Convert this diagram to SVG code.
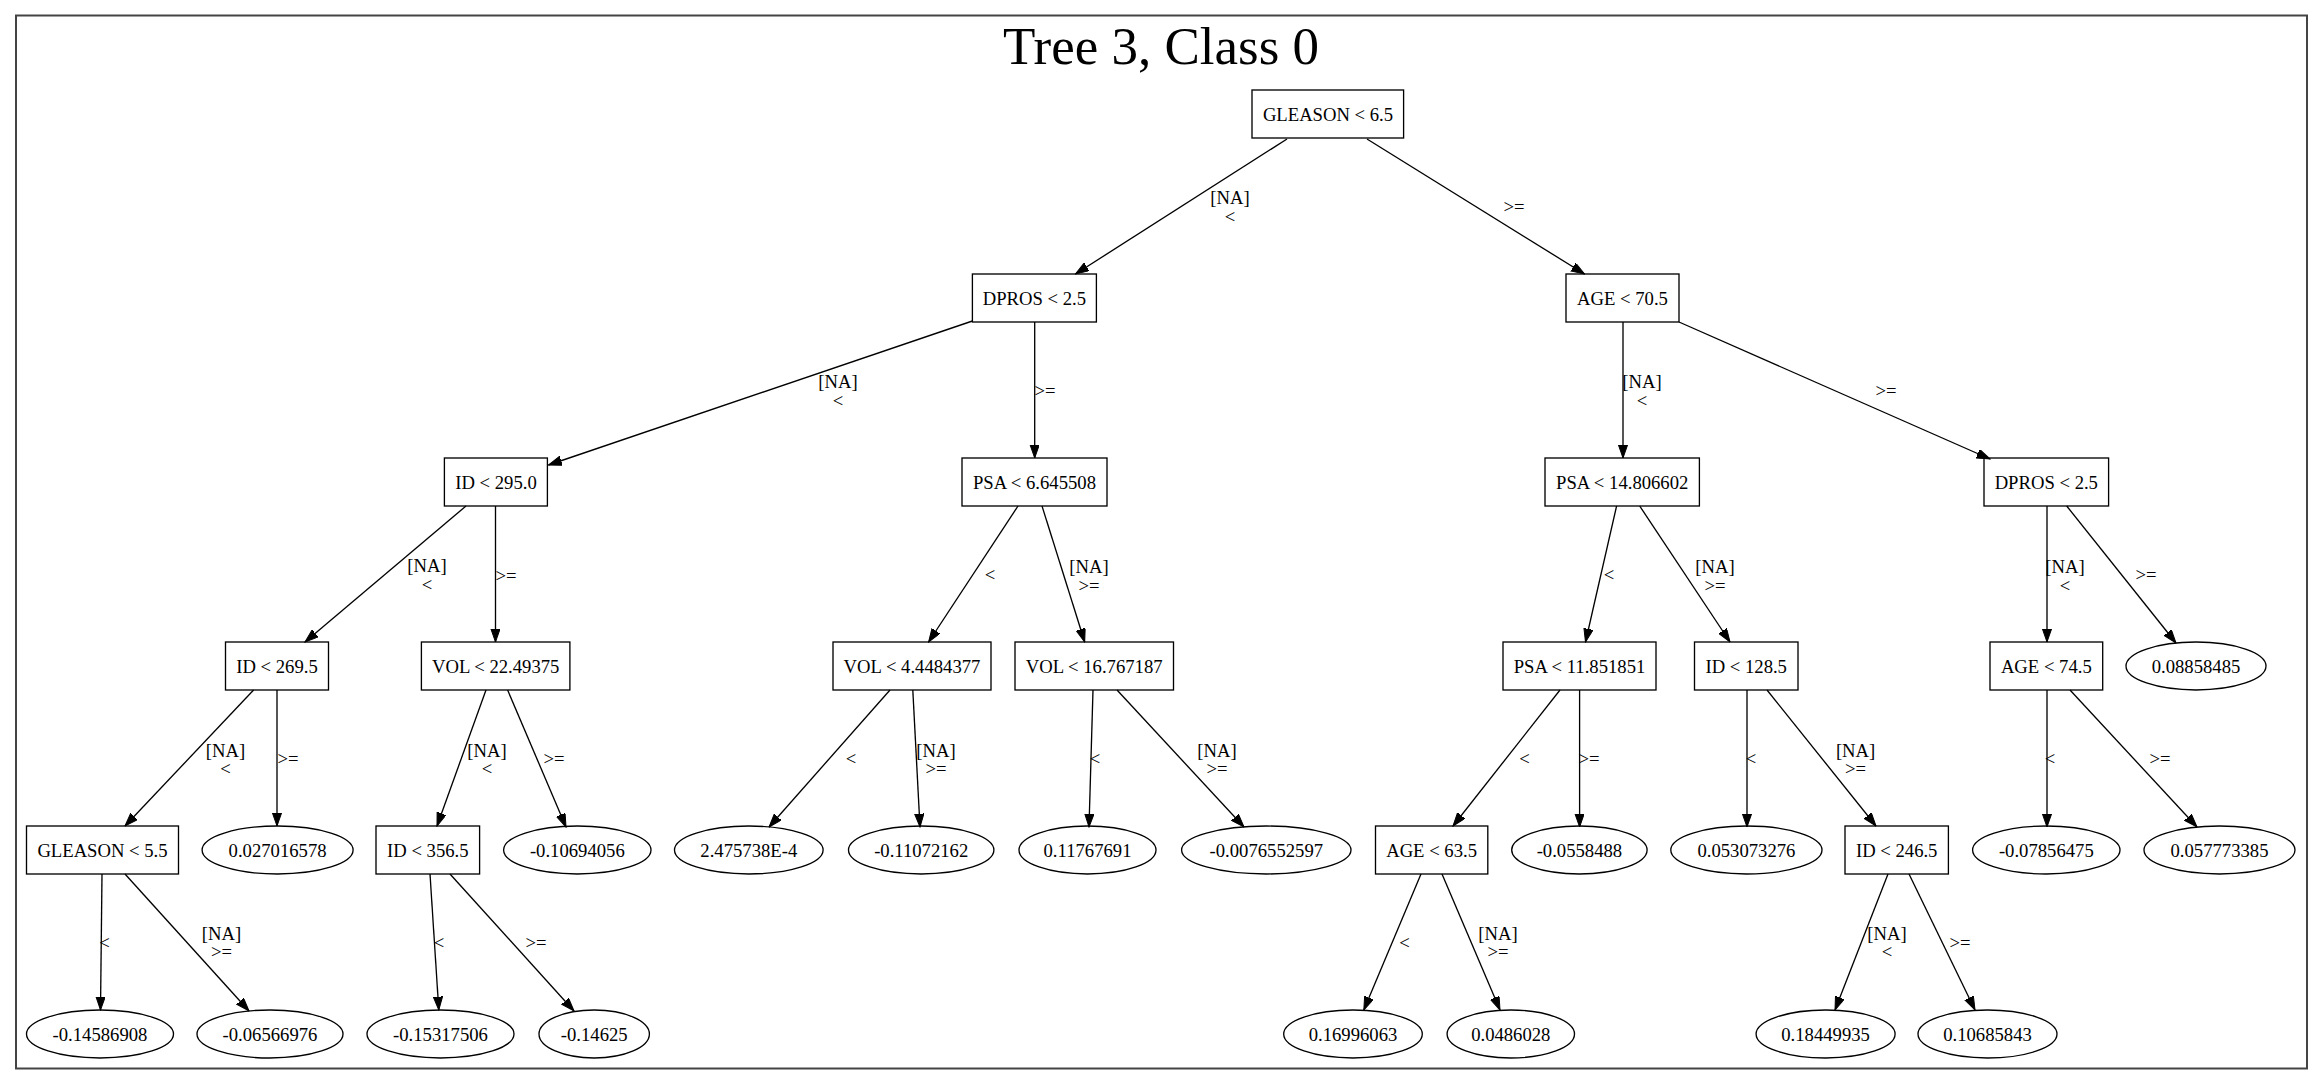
<svg xmlns="http://www.w3.org/2000/svg" width="2323" height="1085" viewBox="0 0 2323 1085">
<style>
.n{fill:none;stroke:#000;stroke-width:1.33}
.t{font-family:"Liberation Serif","Times New Roman",serif;font-size:18.67px;text-anchor:middle;fill:#000}
.e{fill:none;stroke:#000;stroke-width:1.33;marker-end:url(#ah)}
.ttl{font-family:"Liberation Serif","Times New Roman",serif;font-size:53px;text-anchor:middle;fill:#000}
</style>
<defs>
<marker id="ah" markerUnits="userSpaceOnUse" markerWidth="14" markerHeight="10" refX="13.3" refY="4.67" orient="auto">
<path d="M0,0 L13.3,4.67 L0,9.33 Z" fill="#000" stroke="#000" stroke-width="1"/>
</marker>
</defs>
<rect x="0" y="0" width="2323" height="1085" fill="#fff"/>
<rect x="16" y="15.5" width="2291" height="1053" fill="none" stroke="#444" stroke-width="2"/>
<text class="ttl" x="1161" y="64">Tree 3, Class 0</text>

<g id="edges">
<line class="e" x1="1287" y1="139" x2="1075.5" y2="274"/>
<line class="e" x1="1367" y1="139" x2="1584.5" y2="274"/>
<line class="e" x1="972.4" y1="321" x2="548.5" y2="465"/>
<line class="e" x1="1034.7" y1="322" x2="1034.7" y2="458"/>
<line class="e" x1="1623" y1="322" x2="1623" y2="458"/>
<line class="e" x1="1679" y1="322" x2="1990" y2="459"/>
<line class="e" x1="466" y1="506" x2="305" y2="642"/>
<line class="e" x1="495.5" y1="506" x2="495.5" y2="642"/>
<line class="e" x1="1018" y1="506" x2="928.6" y2="642"/>
<line class="e" x1="1042" y1="506" x2="1084.7" y2="642"/>
<line class="e" x1="1616.6" y1="506" x2="1585.5" y2="642"/>
<line class="e" x1="1639.7" y1="506" x2="1730" y2="642"/>
<line class="e" x1="2047" y1="506" x2="2047" y2="642"/>
<line class="e" x1="2066.7" y1="506" x2="2176" y2="643"/>
<line class="e" x1="253.6" y1="690" x2="125" y2="826"/>
<line class="e" x1="277" y1="690" x2="277" y2="826"/>
<line class="e" x1="486" y1="690" x2="437" y2="826"/>
<line class="e" x1="507.6" y1="690" x2="566" y2="827"/>
<line class="e" x1="890" y1="690" x2="769" y2="827"/>
<line class="e" x1="912.8" y1="690" x2="920" y2="827"/>
<line class="e" x1="1093" y1="690" x2="1089" y2="827"/>
<line class="e" x1="1117" y1="690" x2="1244" y2="827"/>
<line class="e" x1="1560" y1="690" x2="1453" y2="826"/>
<line class="e" x1="1579.6" y1="690" x2="1579.6" y2="827"/>
<line class="e" x1="1747" y1="690" x2="1747" y2="827"/>
<line class="e" x1="1767" y1="690" x2="1876" y2="826"/>
<line class="e" x1="2047" y1="690" x2="2047" y2="827"/>
<line class="e" x1="2070" y1="690" x2="2197" y2="827"/>
<line class="e" x1="102" y1="874" x2="100.5" y2="1010"/>
<line class="e" x1="125" y1="874" x2="249" y2="1011"/>
<line class="e" x1="430" y1="874" x2="438.8" y2="1010"/>
<line class="e" x1="450" y1="874" x2="574" y2="1011"/>
<line class="e" x1="1421" y1="874" x2="1363.8" y2="1010"/>
<line class="e" x1="1442" y1="874" x2="1500" y2="1010"/>
<line class="e" x1="1888" y1="874" x2="1835" y2="1010"/>
<line class="e" x1="1909" y1="874" x2="1975" y2="1010"/>
<text class="t" x="1230" y="204">[NA]</text><text class="t" x="1230" y="223">&lt;</text>
<text class="t" x="1514" y="213">&gt;=</text>
<text class="t" x="838" y="388">[NA]</text><text class="t" x="838" y="407">&lt;</text>
<text class="t" x="1045" y="397">&gt;=</text>
<text class="t" x="1642" y="388">[NA]</text><text class="t" x="1642" y="407">&lt;</text>
<text class="t" x="1886" y="397">&gt;=</text>
<text class="t" x="427" y="572">[NA]</text><text class="t" x="427" y="591">&lt;</text>
<text class="t" x="506" y="582">&gt;=</text>
<text class="t" x="990" y="581">&lt;</text>
<text class="t" x="1089" y="573">[NA]</text><text class="t" x="1089" y="592">&gt;=</text>
<text class="t" x="1609" y="581">&lt;</text>
<text class="t" x="1715" y="573">[NA]</text><text class="t" x="1715" y="592">&gt;=</text>
<text class="t" x="2065" y="573">[NA]</text><text class="t" x="2065" y="592">&lt;</text>
<text class="t" x="2146" y="581">&gt;=</text>
<text class="t" x="225.5" y="756.5">[NA]</text><text class="t" x="225.5" y="775">&lt;</text>
<text class="t" x="288" y="765">&gt;=</text>
<text class="t" x="487" y="756.5">[NA]</text><text class="t" x="487" y="775">&lt;</text>
<text class="t" x="554" y="765">&gt;=</text>
<text class="t" x="851" y="765">&lt;</text>
<text class="t" x="936" y="756.5">[NA]</text><text class="t" x="936" y="775">&gt;=</text>
<text class="t" x="1095" y="765">&lt;</text>
<text class="t" x="1217" y="756.5">[NA]</text><text class="t" x="1217" y="775">&gt;=</text>
<text class="t" x="1524.5" y="765">&lt;</text>
<text class="t" x="1589" y="765">&gt;=</text>
<text class="t" x="1751" y="765">&lt;</text>
<text class="t" x="1855.6" y="756.5">[NA]</text><text class="t" x="1855.6" y="775">&gt;=</text>
<text class="t" x="2050" y="765">&lt;</text>
<text class="t" x="2160" y="765">&gt;=</text>
<text class="t" x="104.6" y="949">&lt;</text>
<text class="t" x="221.5" y="939.5">[NA]</text><text class="t" x="221.5" y="958">&gt;=</text>
<text class="t" x="439" y="949">&lt;</text>
<text class="t" x="536" y="949">&gt;=</text>
<text class="t" x="1404.6" y="949">&lt;</text>
<text class="t" x="1498" y="939.5">[NA]</text><text class="t" x="1498" y="958">&gt;=</text>
<text class="t" x="1887" y="939.5">[NA]</text><text class="t" x="1887" y="958">&lt;</text>
<text class="t" x="1960" y="949">&gt;=</text>
</g>

<g id="n0"><rect class="n" x="1252" y="90" width="151.6" height="48"/><text class="t" x="1328" y="120.5">GLEASON &lt; 6.5</text></g>
<g id="n1"><rect class="n" x="972.4" y="274" width="124" height="48"/><text class="t" x="1034.4" y="304.5">DPROS &lt; 2.5</text></g>
<g id="n2"><rect class="n" x="1566" y="274" width="113" height="48"/><text class="t" x="1622.5" y="304.5">AGE &lt; 70.5</text></g>
<g id="n3"><rect class="n" x="444.4" y="458" width="103" height="48"/><text class="t" x="496" y="488.5">ID &lt; 295.0</text></g>
<g id="n4"><rect class="n" x="962" y="458" width="145" height="48"/><text class="t" x="1034.5" y="488.5">PSA &lt; 6.645508</text></g>
<g id="n5"><rect class="n" x="1545" y="458" width="154.4" height="48"/><text class="t" x="1622.2" y="488.5">PSA &lt; 14.806602</text></g>
<g id="n6"><rect class="n" x="1984" y="458" width="124.6" height="48"/><text class="t" x="2046.3" y="488.5">DPROS &lt; 2.5</text></g>
<g id="n7"><rect class="n" x="225.5" y="642" width="103" height="48"/><text class="t" x="277" y="672.5">ID &lt; 269.5</text></g>
<g id="n8"><rect class="n" x="421.4" y="642" width="148.5" height="48"/><text class="t" x="495.7" y="672.5">VOL &lt; 22.49375</text></g>
<g id="n9"><rect class="n" x="833" y="642" width="158" height="48"/><text class="t" x="912" y="672.5">VOL &lt; 4.4484377</text></g>
<g id="n10"><rect class="n" x="1015" y="642" width="158.5" height="48"/><text class="t" x="1094.2" y="672.5">VOL &lt; 16.767187</text></g>
<g id="n11"><rect class="n" x="1503" y="642" width="153" height="48"/><text class="t" x="1579.5" y="672.5">PSA &lt; 11.851851</text></g>
<g id="n12"><rect class="n" x="1694.5" y="642" width="103.5" height="48"/><text class="t" x="1746.2" y="672.5">ID &lt; 128.5</text></g>
<g id="n13"><rect class="n" x="1990" y="642" width="112.7" height="48"/><text class="t" x="2046.3" y="672.5">AGE &lt; 74.5</text></g>
<g id="n14"><ellipse class="n" cx="2196" cy="666" rx="70" ry="24"/><text class="t" x="2196" y="672.5">0.08858485</text></g>
<g id="n15"><rect class="n" x="26.5" y="826" width="152" height="48"/><text class="t" x="102.5" y="856.5">GLEASON &lt; 5.5</text></g>
<g id="n16"><ellipse class="n" cx="277.6" cy="850" rx="75.5" ry="24"/><text class="t" x="277.6" y="856.5">0.027016578</text></g>
<g id="n17"><rect class="n" x="376" y="826" width="103.6" height="48"/><text class="t" x="427.8" y="856.5">ID &lt; 356.5</text></g>
<g id="n18"><ellipse class="n" cx="577.3" cy="850" rx="73.7" ry="24"/><text class="t" x="577.3" y="856.5">-0.10694056</text></g>
<g id="n19"><ellipse class="n" cx="748.8" cy="850" rx="74.3" ry="24"/><text class="t" x="748.8" y="856.5">2.475738E-4</text></g>
<g id="n20"><ellipse class="n" cx="921.2" cy="850" rx="72.7" ry="24"/><text class="t" x="921.2" y="856.5">-0.11072162</text></g>
<g id="n21"><ellipse class="n" cx="1087.5" cy="850" rx="68.5" ry="24"/><text class="t" x="1087.5" y="856.5">0.11767691</text></g>
<g id="n22"><ellipse class="n" cx="1266.3" cy="850" rx="84.7" ry="24"/><text class="t" x="1266.3" y="856.5">-0.0076552597</text></g>
<g id="n23"><rect class="n" x="1375.5" y="826" width="112.3" height="48"/><text class="t" x="1431.6" y="856.5">AGE &lt; 63.5</text></g>
<g id="n24"><ellipse class="n" cx="1579.4" cy="850" rx="67.7" ry="24"/><text class="t" x="1579.4" y="856.5">-0.0558488</text></g>
<g id="n25"><ellipse class="n" cx="1746.4" cy="850" rx="75.6" ry="24"/><text class="t" x="1746.4" y="856.5">0.053073276</text></g>
<g id="n26"><rect class="n" x="1845" y="826" width="103.4" height="48"/><text class="t" x="1896.7" y="856.5">ID &lt; 246.5</text></g>
<g id="n27"><ellipse class="n" cx="2046.3" cy="850" rx="73.7" ry="24"/><text class="t" x="2046.3" y="856.5">-0.07856475</text></g>
<g id="n28"><ellipse class="n" cx="2219.5" cy="850" rx="75.5" ry="24"/><text class="t" x="2219.5" y="856.5">0.057773385</text></g>
<g id="n29"><ellipse class="n" cx="100" cy="1034" rx="73.5" ry="24"/><text class="t" x="100" y="1040.5">-0.14586908</text></g>
<g id="n30"><ellipse class="n" cx="270" cy="1034" rx="73" ry="24"/><text class="t" x="270" y="1040.5">-0.06566976</text></g>
<g id="n31"><ellipse class="n" cx="440.5" cy="1034" rx="73.5" ry="24"/><text class="t" x="440.5" y="1040.5">-0.15317506</text></g>
<g id="n32"><ellipse class="n" cx="594.2" cy="1034" rx="55.2" ry="24"/><text class="t" x="594.2" y="1040.5">-0.14625</text></g>
<g id="n33"><ellipse class="n" cx="1353" cy="1034" rx="69.3" ry="24"/><text class="t" x="1353" y="1040.5">0.16996063</text></g>
<g id="n34"><ellipse class="n" cx="1510.8" cy="1034" rx="63.7" ry="24"/><text class="t" x="1510.8" y="1040.5">0.0486028</text></g>
<g id="n35"><ellipse class="n" cx="1825.6" cy="1034" rx="69.5" ry="24"/><text class="t" x="1825.6" y="1040.5">0.18449935</text></g>
<g id="n36"><ellipse class="n" cx="1987.5" cy="1034" rx="69.5" ry="24"/><text class="t" x="1987.5" y="1040.5">0.10685843</text></g>
</svg>
